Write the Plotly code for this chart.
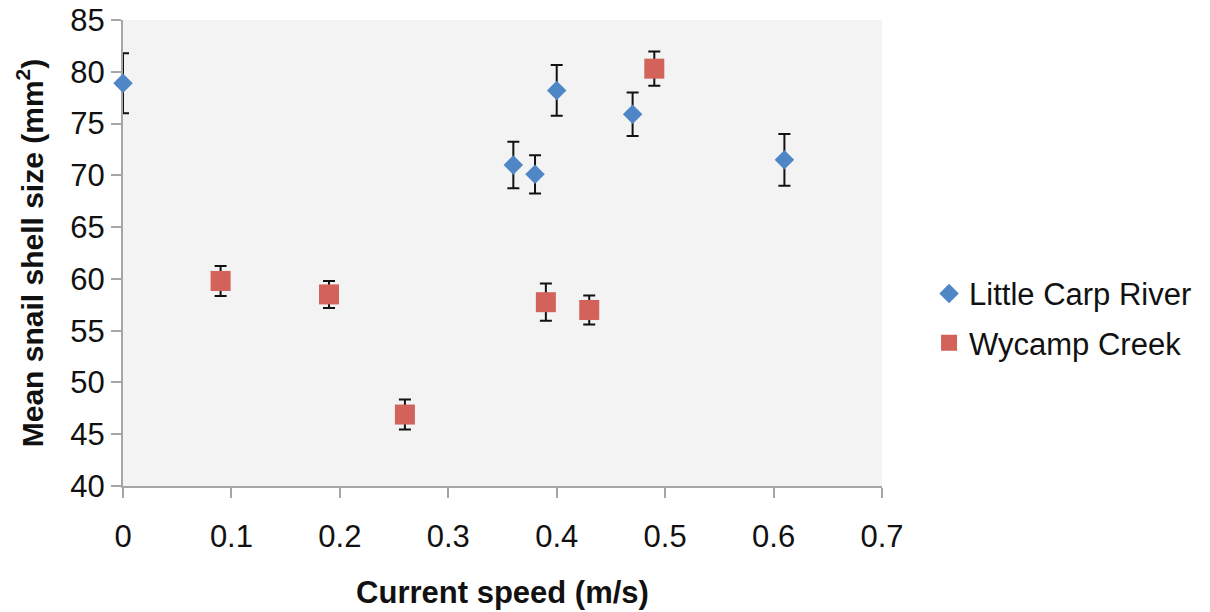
import plotly.graph_objects as go

# Little Carp River
lcr_x = [0.00, 0.36, 0.38, 0.40, 0.47, 0.61]
lcr_y = [78.9, 71.0, 70.1, 78.2, 75.9, 71.5]
lcr_err = [2.9, 2.25, 1.85, 2.45, 2.1, 2.5]

# Wycamp Creek
wc_x = [0.09, 0.19, 0.26, 0.39, 0.43, 0.49]
wc_y = [59.8, 58.5, 46.9, 57.75, 57.0, 80.3]
wc_err = [1.45, 1.3, 1.45, 1.8, 1.4, 1.65]

x_ticks = [0, 0.1, 0.2, 0.3, 0.4, 0.5, 0.6, 0.7]
y_ticks = [40, 45, 50, 55, 60, 65, 70, 75, 80, 85]

FONT = "Liberation Sans, Arial, sans-serif"

fig = go.Figure()
fig.add_trace(go.Scatter(
    x=lcr_x, y=lcr_y, mode="markers", name="Little Carp River",
    legendgroup="a",
    marker=dict(symbol="diamond", size=15, color="#4F86C6"),
    error_y=dict(type="data", array=lcr_err, color="#111111", thickness=2, width=6),
    cliponaxis=False,
))
fig.add_trace(go.Scatter(
    x=wc_x, y=wc_y, mode="markers", name="Wycamp Creek",
    legendgroup="b",
    marker=dict(symbol="square", size=20, color="#D2625A"),
    error_y=dict(type="data", array=wc_err, color="#111111", thickness=2, width=6),
    cliponaxis=False,
))

fig.update_layout(
    width=1210, height=612,
    margin=dict(l=123, r=328, t=20, b=126, autoexpand=False),
    paper_bgcolor="white",
    plot_bgcolor="#F3F3F3",
    font=dict(family=FONT, color="#111111"),
    showlegend=True,
    legend=dict(
        x=1.062, xanchor="left", y=0.36, yanchor="middle",
        font=dict(size=31, family=FONT, color="#111111"),
        traceorder="grouped", tracegroupgap=6,
        bgcolor="rgba(0,0,0,0)",
    ),
)
fig.update_xaxes(
    range=[0, 0.7], tickvals=x_ticks, ticktext=[f"{v:g}" for v in x_ticks],
    showgrid=False, zeroline=False,
    showline=True, linecolor="#A6A6A6", linewidth=2,
    ticks="outside", ticklen=10, tickcolor="#A6A6A6", tickwidth=2,
    tickfont=dict(size=31, family=FONT, color="#111111"),
    ticklabelstandoff=12,
    layer="below traces",
    title=dict(text="<b>Current speed (m/s)</b>", font=dict(size=31, family=FONT, color="#111111"), standoff=28),
)
fig.update_yaxes(
    range=[40, 85], tickvals=y_ticks, ticksuffix="\u2007\u2007\u2009",
    showgrid=False, zeroline=False,
    showline=True, linecolor="#A6A6A6", linewidth=2,
    ticks="outside", ticklen=10, tickcolor="#A6A6A6", tickwidth=2,
    tickfont=dict(size=31, family=FONT, color="#111111"),
    layer="below traces",
    title=dict(text="<b>Mean snail shell size (mm<sup>2</sup>)</b>", font=dict(size=30, family=FONT, color="#111111"), standoff=18),
)

fig.write_html("out.html")
